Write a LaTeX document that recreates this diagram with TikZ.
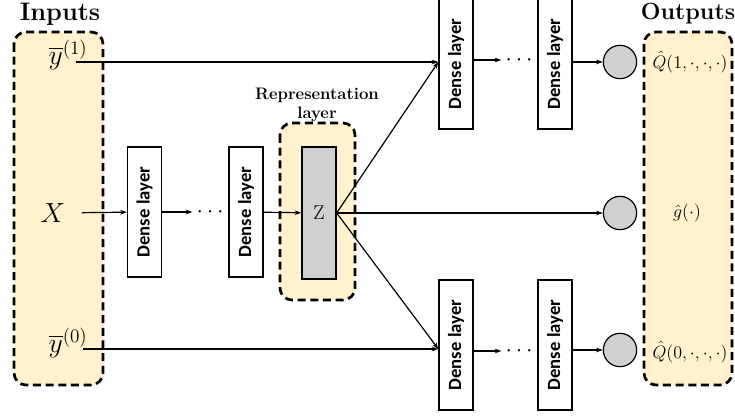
\documentclass[tikz,border=0pt]{standalone}
\usepackage{fontspec}
\usepackage{amsmath}
\usetikzlibrary{arrows.meta,positioning,calc}
\newfontfamily\densefont{Carlito}
\definecolor{groupfill}{RGB}{255,242,204}
\definecolor{unitfill}{RGB}{208,208,208}

\tikzset{
    groupbox/.style={draw, fill=groupfill, rounded corners=9pt, line width=2pt, dash pattern=on 6pt off 3.5pt},
    dense/.style={draw, fill=white, line width=1pt, minimum width=25.5pt, minimum height=97.5pt, inner sep=0pt,
        font={\densefont\bfseries\fontsize{14}{14}\selectfont}},
    outunit/.style={circle, draw, fill=unitfill, line width=0.9pt, minimum size=25pt, inner sep=0pt},
    conn/.style={-{Stealth[length=5pt,width=3.5pt]}, line width=0.9pt},
    dotsnode/.style={font=\fontsize{18}{18}\selectfont, inner sep=3pt},
    outlabel/.style={font=\fontsize{12}{12}\selectfont}
}

\begin{document}
\begin{tikzpicture}[x=0.75pt, y=-0.75pt]
    \useasboundingbox (0,0) rectangle (735,417);

    % Input, output and representation groups
    \draw[groupbox] (14,32) rectangle (103,385);
    \draw[groupbox] (644,32) rectangle (732,385);
    \draw[groupbox] (280,123) rectangle (355,300);
    \node[font={\bfseries\fontsize{19}{19}\selectfont}] (intitle) at (60,14) {Inputs};
    \node[font={\bfseries\fontsize{17.5}{17.5}\selectfont}] (outtitle) at (688,14) {Outputs};
    \node[font={\bfseries\fontsize{12.5}{14}\selectfont}, align=center] (replabel) at (317,105) {Representation\\layer};

    % Inputs
    \node[font=\fontsize{20}{20}\selectfont] (y1) at (68,55) {$\overline{y}^{(1)}$};
    \node[font=\fontsize{20}{20}\selectfont] (X) at (53,213) {$X$};
    \node[font=\fontsize{20}{20}\selectfont] (y0) at (68,343) {$\overline{y}^{(0)}$};
    \coordinate (y1out) at (76,62);
    \coordinate (y0out) at (83,349);

    % Shared layers
    \node[dense] (d1) at (144.5,212) {\rotatebox{90}{Dense layer}};
    \node[dotsnode] (dots1) at (212,212) {$\cdots$};
    \node[dense] (d2) at (246,212) {\rotatebox{90}{Dense layer}};
    \node[draw, fill=unitfill, line width=1pt, minimum width=25.5pt, minimum height=99pt, inner sep=0pt,
        font=\fontsize{15}{15}\selectfont] (z) at (319,213) {Z};

    % Treated branch (top)
    \node[dense] (t1) at (456,64) {\rotatebox{90}{Dense layer}};
    \node[dotsnode] (dots2) at (521,60) {$\cdots$};
    \node[dense] (t2) at (555,64) {\rotatebox{90}{Dense layer}};

    % Control branch (bottom)
    \node[dense] (b1) at (456,345) {\rotatebox{90}{Dense layer}};
    \node[dotsnode] (dots3) at (521,351) {$\cdots$};
    \node[dense] (b2) at (555,345) {\rotatebox{90}{Dense layer}};

    % Output units
    \node[outunit] (c1) at (620,62) {};
    \node[outunit] (c2) at (620,213) {};
    \node[outunit] (c3) at (620,350) {};
    \node[outlabel] (q1) at (690,62) {\scalebox{1.12}{$\hat{Q}(1,\cdot,\cdot,\cdot)$}};
    \node[outlabel] (g) at (687,213) {\scalebox{1.12}{$\hat{g}(\cdot)$}};
    \node[outlabel] (q0) at (690,352) {\scalebox{1.12}{$\hat{Q}(0,\cdot,\cdot,\cdot)$}};

    % Connections
    \draw[conn, shorten <=9pt] (X) -- (d1);
    \draw[conn] (d1) -- (dots1);
    \draw[conn] (d2) -- (z);
    \draw[conn] (y1out) -- (y1out -| t1.west);
    \draw[conn] (z.east) -- (y1out -| t1.west);
    \draw[conn] (y0out) -- (y0out -| b1.west);
    \draw[conn] (z.east) -- (y0out -| b1.west);
    \draw[conn] (z) -- (c2);
    \draw[conn] (t1.east |- dots2) -- (dots2);
    \draw[conn] (b1.east |- dots3) -- (dots3);
    \draw[conn] (t2.east |- c1) -- (c1);
    \draw[conn] (b2.east |- c3) -- (c3);
\end{tikzpicture}
\end{document}
